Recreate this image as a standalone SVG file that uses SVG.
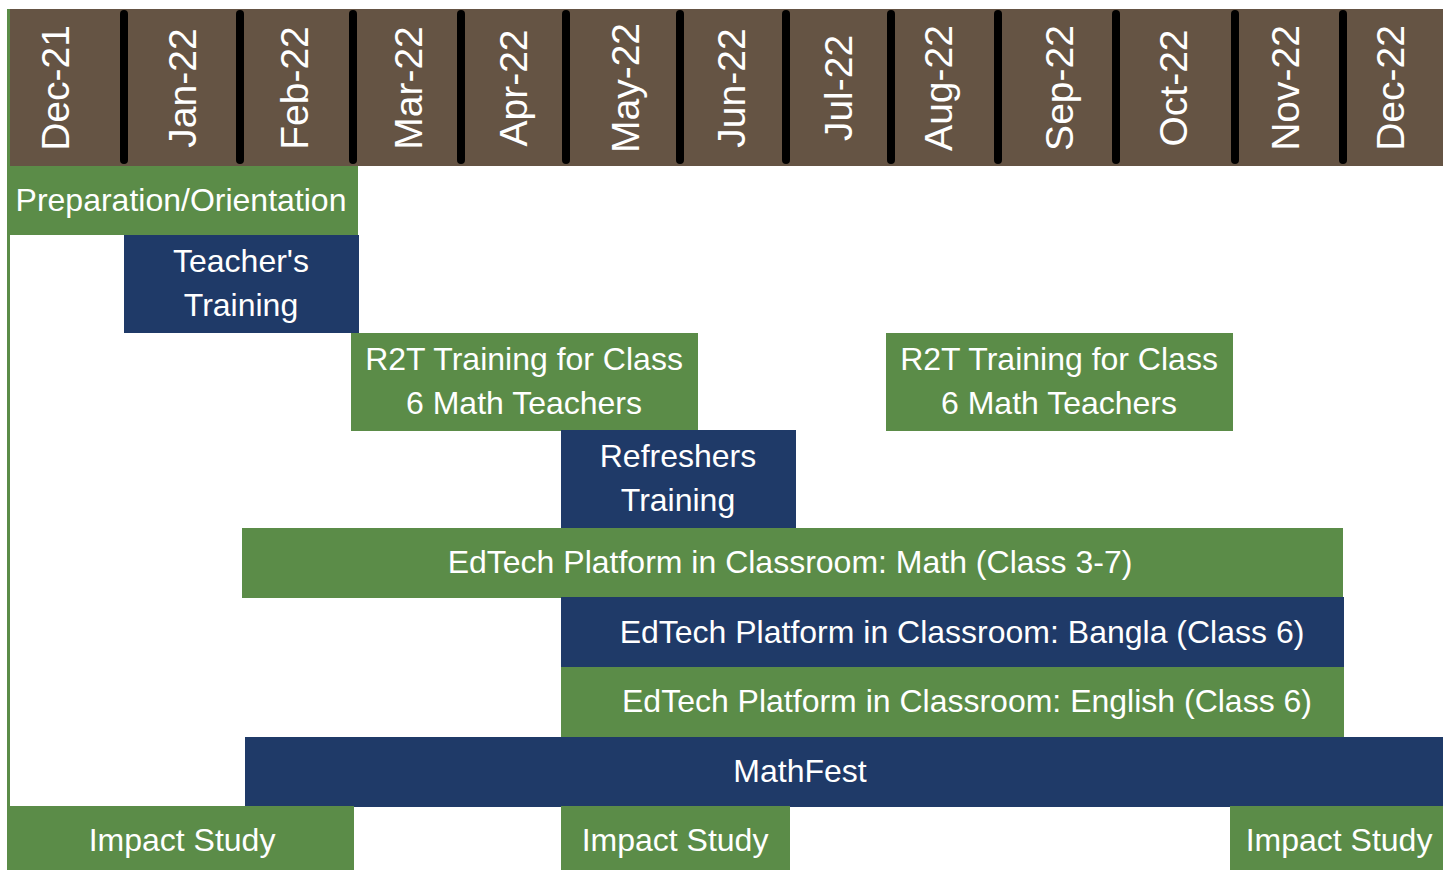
<svg xmlns="http://www.w3.org/2000/svg" width="1443" height="870" viewBox="0 0 1443 870">
<style>
.hdr{fill:#655444}
.sep{stroke:#000;stroke-width:8;stroke-linecap:round}
.mon{font-family:"Liberation Sans",Arial,sans-serif;font-size:39px;fill:#fff;text-anchor:middle}
.g{fill:#5B8C48}
.b{fill:#1F3A68}
.t{font-family:"Liberation Sans",Arial,sans-serif;font-size:32px;fill:#fff;text-anchor:middle}
</style>
<g id="header">
<rect class="hdr" x="10" y="9" width="1433" height="157"/>
<g id="separators">
<line class="sep" x1="124" y1="14" x2="124" y2="160"/>
<line class="sep" x1="240" y1="14" x2="240" y2="160"/>
<line class="sep" x1="353" y1="14" x2="353" y2="160"/>
<line class="sep" x1="461" y1="14" x2="461" y2="160"/>
<line class="sep" x1="566" y1="14" x2="566" y2="160"/>
<line class="sep" x1="680" y1="14" x2="680" y2="160"/>
<line class="sep" x1="786" y1="14" x2="786" y2="160"/>
<line class="sep" x1="891" y1="14" x2="891" y2="160"/>
<line class="sep" x1="998" y1="14" x2="998" y2="160"/>
<line class="sep" x1="1116" y1="14" x2="1116" y2="160"/>
<line class="sep" x1="1235" y1="14" x2="1235" y2="160"/>
<line class="sep" x1="1343" y1="14" x2="1343" y2="160"/>
</g>
<text class="mon" transform="translate(55,88) rotate(-90)" y="14">Dec-21</text>
<text class="mon" transform="translate(182,88) rotate(-90)" y="14">Jan-22</text>
<text class="mon" transform="translate(294,88) rotate(-90)" y="14">Feb-22</text>
<text class="mon" transform="translate(408,88) rotate(-90)" y="14">Mar-22</text>
<text class="mon" transform="translate(513,88) rotate(-90)" y="14">Apr-22</text>
<text class="mon" transform="translate(625,88) rotate(-90)" y="14">May-22</text>
<text class="mon" transform="translate(731,88) rotate(-90)" y="14">Jun-22</text>
<text class="mon" transform="translate(838,88) rotate(-90)" y="14">Jul-22</text>
<text class="mon" transform="translate(938,88) rotate(-90)" y="14">Aug-22</text>
<text class="mon" transform="translate(1059,88) rotate(-90)" y="14">Sep-22</text>
<text class="mon" transform="translate(1173,88) rotate(-90)" y="14">Oct-22</text>
<text class="mon" transform="translate(1285,88) rotate(-90)" y="14">Nov-22</text>
<text class="mon" transform="translate(1390,88) rotate(-90)" y="14">Dec-22</text>
</g>
<g id="axis">
<rect class="g" x="7" y="9" width="3" height="798"/>
</g>
<g id="prep">
<rect class="g" x="7" y="166" width="351" height="69"/>
<text class="t" x="181" y="211">Preparation/Orientation</text>
</g>
<g id="teachers-training">
<rect class="b" x="124" y="235" width="235" height="98"/>
<text class="t" x="241" y="272">Teacher's</text>
<text class="t" x="241" y="316">Training</text>
</g>
<g id="r2t-1">
<rect class="g" x="351" y="333" width="347" height="98"/>
<text class="t" x="524" y="370">R2T Training for Class</text>
<text class="t" x="524" y="414">6 Math Teachers</text>
</g>
<g id="r2t-2">
<rect class="g" x="886" y="333" width="347" height="98"/>
<text class="t" x="1059" y="370">R2T Training for Class</text>
<text class="t" x="1059" y="414">6 Math Teachers</text>
</g>
<g id="refreshers">
<rect class="b" x="561" y="430" width="235" height="98"/>
<text class="t" x="678" y="467">Refreshers</text>
<text class="t" x="678" y="511">Training</text>
</g>
<g id="edtech-math">
<rect class="g" x="242" y="528" width="1101" height="70"/>
<text class="t" x="790" y="573">EdTech Platform in Classroom: Math (Class 3-7)</text>
</g>
<g id="edtech-bangla">
<rect class="b" x="561" y="597" width="783" height="70"/>
<text class="t" x="962" y="643">EdTech Platform in Classroom: Bangla (Class 6)</text>
</g>
<g id="edtech-english">
<rect class="g" x="561" y="667" width="783" height="70"/>
<text class="t" x="967" y="712">EdTech Platform in Classroom: English (Class 6)</text>
</g>
<g id="mathfest">
<rect class="b" x="245" y="737" width="1198" height="70"/>
<text class="t" x="800" y="782">MathFest</text>
</g>
<g id="impact-1">
<rect class="g" x="7" y="806" width="347" height="64"/>
<text class="t" x="182" y="851">Impact Study</text>
</g>
<g id="impact-2">
<rect class="g" x="561" y="806" width="229" height="64"/>
<text class="t" x="675" y="851">Impact Study</text>
</g>
<g id="impact-3">
<rect class="g" x="1230" y="806" width="213" height="64"/>
<text class="t" x="1339" y="851">Impact Study</text>
</g>
<g id="connectors"></g>
</svg>
